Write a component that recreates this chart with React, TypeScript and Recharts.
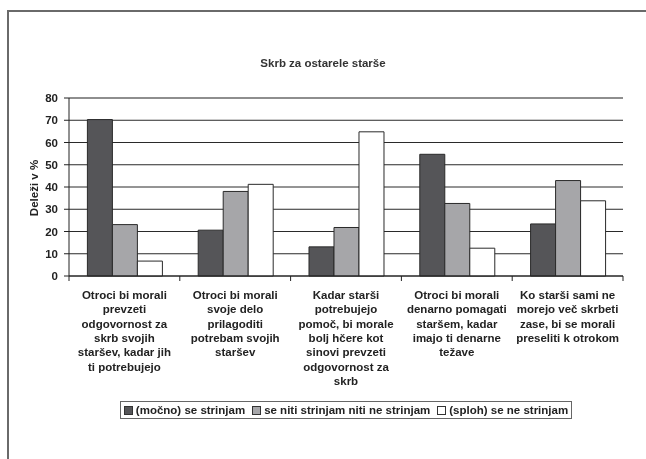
import { BarChart, Bar, XAxis, YAxis, CartesianGrid, ReferenceLine } from "recharts";

const categories = [
  "Otroci bi morali\nprevzeti\nodgovornost za\nskrb svojih\nstaršev, kadar jih\nti potrebujejo",
  "Otroci bi morali\nsvoje delo\nprilagoditi\npotrebam svojih\nstaršev",
  "Kadar starši\npotrebujejo\npomoč, bi morale\nbolj hčere kot\nsinovi prevzeti\nodgovornost za\nskrb",
  "Otroci bi morali\ndenarno pomagati\nstaršem, kadar\nimajo ti denarne\ntežave",
  "Ko starši sami ne\nmorejo več skrbeti\nzase, bi se morali\npreseliti k otrokom",
];
const agree = [70.3, 20.6, 13.1, 54.7, 23.4];
const neutral = [23.1, 38.0, 21.8, 32.6, 42.9];
const disagree = [6.7, 41.2, 64.8, 12.5, 33.8];
const seriesNames = ["(močno) se strinjam", "se niti strinjam niti ne strinjam", "(sploh) se ne strinjam"];
const seriesColors = ["#555558", "#a6a6a9", "#ffffff"];
const yTicks = [0, 10, 20, 30, 40, 50, 60, 70, 80];

const data = categories.map((c, i) => ({
  name: c,
  agree: agree[i],
  neutral: neutral[i],
  disagree: disagree[i],
}));

const FONT = "'Liberation Sans', Arial, sans-serif";
const FS = 11.5;

// category label + tick marks on the category boundaries
const CategoryTick = (props: any) => {
  const { x, y, payload, index } = props;
  const half = payload && payload.offset ? payload.offset : 55.4;
  const lines = String(payload.value).split("\n");
  return (
    <g>
      {index === 0 && <line x1={x - half} x2={x - half} y1={y - 8} y2={y - 3} stroke="#222" />}
      <line x1={x + half} x2={x + half} y1={y - 8} y2={y - 3} stroke="#222" />
      <text x={x} y={y + 15} textAnchor="middle" fontFamily={FONT} fontSize={FS} fontWeight="bold" fill="#222">
        {lines.map((l, i) => (
          <tspan key={i} x={x} dy={i === 0 ? 0 : 14.3}>
            {l}
          </tspan>
        ))}
      </text>
    </g>
  );
};

const LegendBox = () => (
  <div style={{ position: "absolute", left: 61, top: 392, width: 554, textAlign: "center" }}>
    <div
      style={{
        display: "inline-block",
        border: "1.5px solid #666",
        padding: "1px 3px 1px 3px",
        fontFamily: FONT,
        fontSize: FS,
        fontWeight: "bold",
        color: "#222",
        lineHeight: "14px",
        whiteSpace: "nowrap",
      }}
    >
      {seriesNames.map((n, i) => (
        <span key={n} style={{ marginRight: i < seriesNames.length - 1 ? 7 : 0 }}>
          <span
            style={{
              display: "inline-block",
              width: 7,
              height: 7,
              background: seriesColors[i],
              border: "1px solid #333",
              marginRight: 3,
              verticalAlign: "-1px",
            }}
          />
          {n}
        </span>
      ))}
    </div>
  </div>
);

export default function App() {
  return (
    <div style={{ position: "fixed", left: 8, top: 8, width: 638, height: 451 }}>
      <div style={{ position: "absolute", left: -1, top: 2, width: 639, height: 2, background: "#6a6a6a" }} />
      <div style={{ position: "absolute", left: -1, top: 2, width: 2, height: 449, background: "#6a6a6a" }} />
      <div style={{ position: "absolute", left: 0, top: 0 }}>
        <BarChart
          width={638}
          height={451}
          data={data}
          margin={{ top: 90, right: 23, bottom: 182, left: 0 }}
          barCategoryGap="16.6%"
          barGap={0}
        >
          <text x={315} y={59} textAnchor="middle" fontFamily={FONT} fontSize={FS} fontWeight="bold" fill="#333">
            Skrb za ostarele starše
          </text>
          <CartesianGrid vertical={false} stroke="#2a2a2a" />
          <ReferenceLine y={80} stroke="#8c8c8c" strokeWidth={1.5} />
          <XAxis
            dataKey="name"
            tick={<CategoryTick />}
            tickLine={false}
            tickSize={5}
            tickMargin={3}
            axisLine={{ stroke: "#222" }}
            interval={0}
            height={1}
          />
          <YAxis
            domain={[0, 80]}
            ticks={yTicks}
            width={61}
            tickSize={5}
            tickMargin={6}
            interval={0}
            axisLine={{ stroke: "#222" }}
            tickLine={{ stroke: "#222" }}
            tick={{ fontFamily: FONT, fontSize: FS, fontWeight: "bold", fill: "#222" }}
            label={{
              content: () => (
                <text
                  x={26}
                  y={180}
                  transform="rotate(-90 26 180)"
                  textAnchor="middle"
                  dominantBaseline="central"
                  fontFamily={FONT}
                  fontSize={FS}
                  fontWeight="bold"
                  fill="#222"
                >
                  Deleži v %
                </text>
              ),
            }}
          />
          <Bar dataKey="agree" name={seriesNames[0]} fill={seriesColors[0]} stroke="#2a2a2a" strokeWidth={1} isAnimationActive={false} />
          <Bar dataKey="neutral" name={seriesNames[1]} fill={seriesColors[1]} stroke="#2a2a2a" strokeWidth={1} isAnimationActive={false} />
          <Bar dataKey="disagree" name={seriesNames[2]} fill={seriesColors[2]} stroke="#2a2a2a" strokeWidth={1} isAnimationActive={false} />
        </BarChart>
      </div>
      <LegendBox />
    </div>
  );
}
